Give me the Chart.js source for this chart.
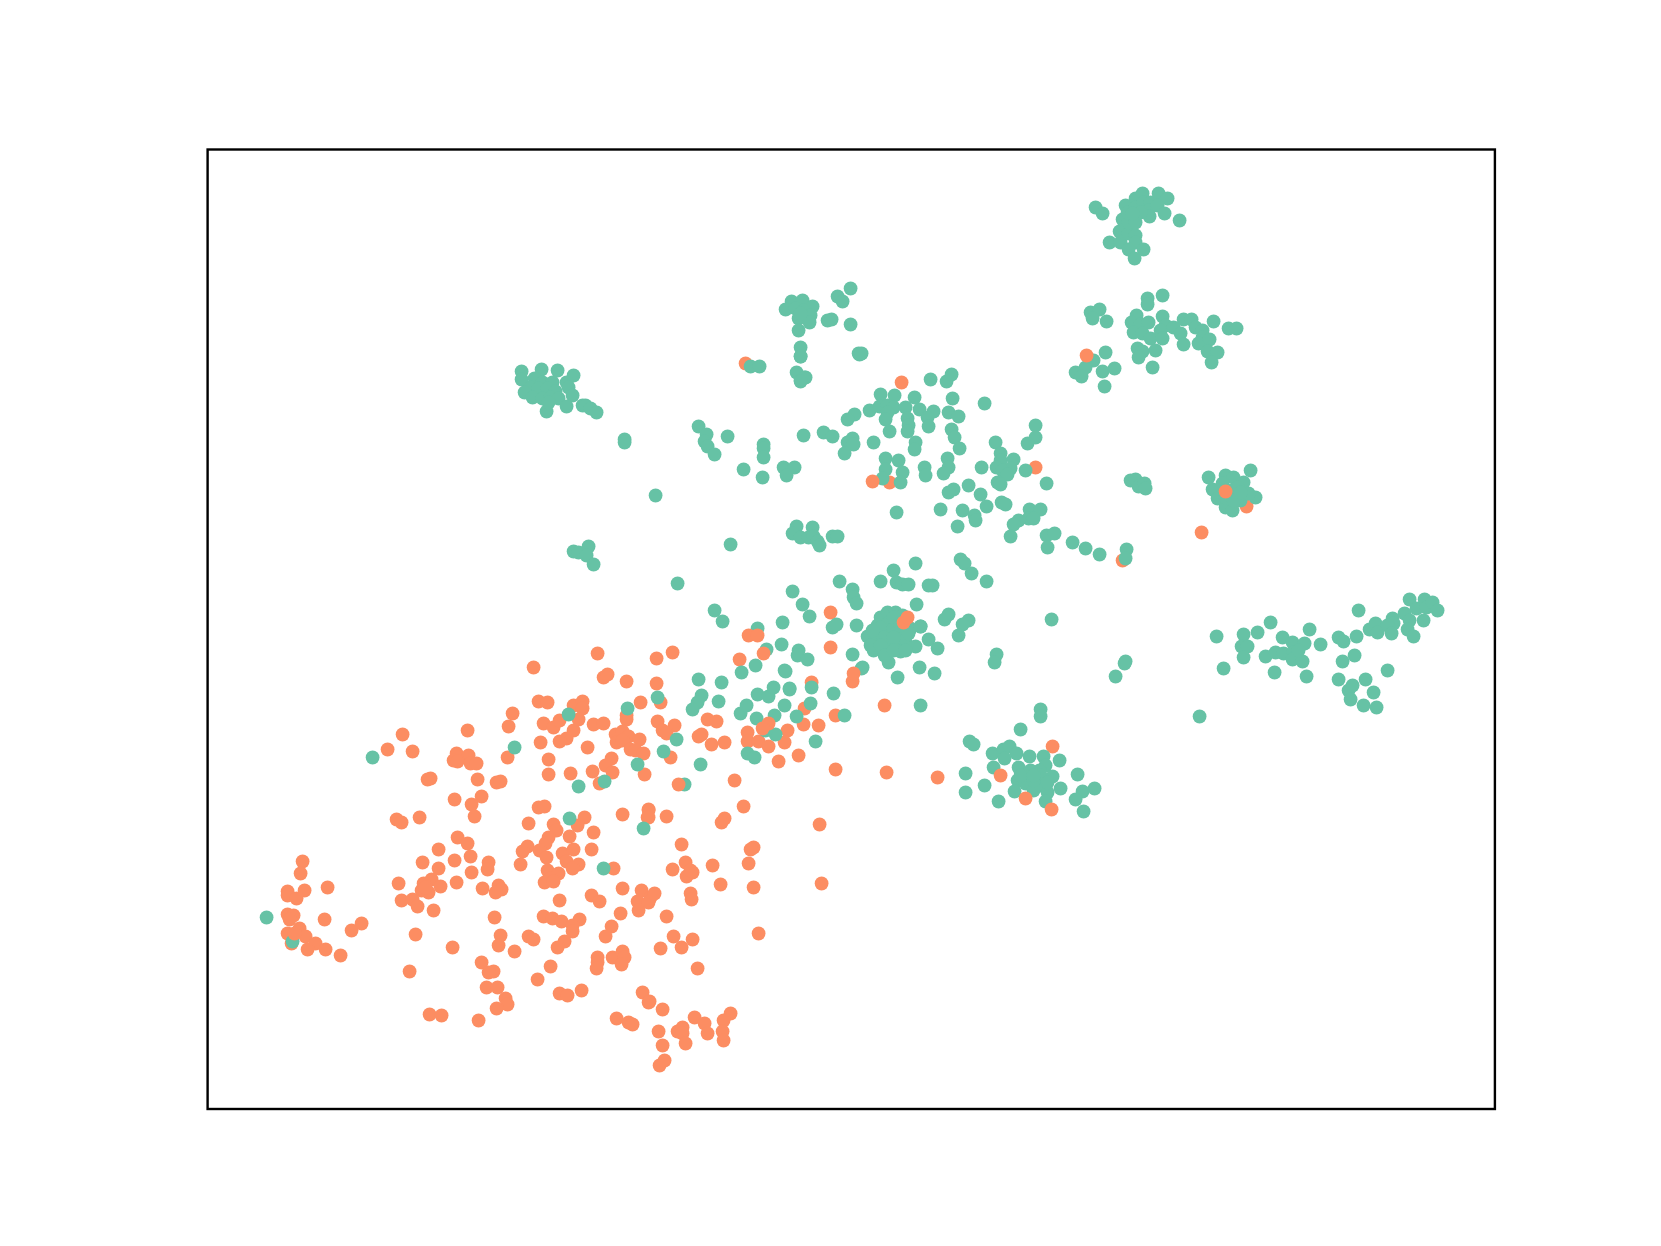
<!DOCTYPE html>
<html>
<head>
<meta charset="utf-8">
<title>Scatter</title>
<script src="https://cdn.jsdelivr.net/npm/chart.js@4/dist/chart.umd.min.js"></script>
<style>
  html, body { margin: 0; padding: 0; background: #fff; }
  canvas { display: block; }
</style>
</head>
<body>
<canvas id="chartScatter" width="1661" height="1246"></canvas>
<script>
// Unitless embedding, no ticks in the source, so values are read straight off the picture
const xRange = [207, 1494.3]
const yRange = [149, 1108.5]

const greenPoints = [
  // lower left strays
  [266,917],[292,941],[372,757],[514,747],[568,714],[627,708],[637,764],[604,781],[578,786],[569,818],[643,828],[603,868],
  // middle band
  [677,583],[701,695],[697,702],[692,709],[698,679],[721,682],[718,701],[657,697],[676,739],[663,751],[700,764],[684,784],
  [747,753],[754,757],[775,734],[765,730],[815,741],[740,713],[746,705],[756,718],[757,694],[768,696],[773,687],[789,688],
  [784,670],[784,705],[774,715],[796,716],[810,703],[811,687],[833,693],[844,715],[920,705],[741,672],[755,665],[766,649],
  [781,644],[798,650],[797,655],[807,659],[782,622],[757,628],[714,610],[722,621],[792,591],[802,604],[809,616],[832,627],
  [836,624],[856,625],[852,654],[862,667],[888,662],[897,677],[919,667],[934,673],[785,671],[789,689],
  // dense blob
  [880,617],[887,612],[895,612],[902,615],[877,625],[887,623],[895,622],[880,633],[890,633],[898,630],[867,636],[875,640],
  [887,642],[897,642],[905,642],[873,650],[887,648],[900,651],[915,646],[910,628],[920,626],[928,639],[937,648],[916,604],
  [861,668],[880,627],[893,628],[883,637],[893,617],[903,637],[908,633],[920,626],[944,619],[948,614],[968,620],[962,624],[958,635],
  [872,630],[870,645],[880,645],[893,637],[900,625],[884,655],[893,650],[905,650],
  // above the blob
  [839,581],[852,589],[853,597],[856,603],[880,581],[893,570],[915,563],[896,582],[902,584],[908,584],[928,585],[932,585],
  [960,559],[964,563],[971,573],[986,581],[1051,619],[996,654],[994,662],[1125,661],[1124,663],[1115,676],[1199,716],
  // centre spread
  [800,356],[859,354],[796,372],[800,380],[805,377],[930,379],[946,381],[951,374],[880,394],[894,395],[914,397],[952,398],
  [984,403],[869,410],[879,406],[887,405],[893,407],[887,412],[905,407],[919,409],[933,411],[948,412],[958,416],[854,414],
  [847,419],[885,419],[907,418],[908,425],[927,417],[928,426],[951,429],[954,437],[959,448],[889,431],[907,431],[823,432],
  [832,436],[803,435],[852,438],[847,442],[853,444],[844,453],[873,442],[915,442],[914,449],[1035,425],[1035,437],[1027,443],
  [995,442],[1000,453],[1000,460],[1013,459],[996,467],[1010,468],[1002,470],[1007,474],[997,482],[1000,484],[981,467],[1025,470],
  [1046,483],[885,458],[898,460],[885,469],[902,472],[882,478],[900,482],[924,467],[925,475],[947,458],[948,467],[943,473],
  [783,467],[794,467],[786,475],[762,477],[896,512],[1130,480],[1135,479],[1138,486],[1144,483],[1145,488],[968,485],[953,489],
  [948,492],[980,494],[1001,502],[1005,504],[986,506],[940,509],[962,510],[974,515],[975,520],[957,526],[1029,509],[1040,509],
  [1028,518],[1033,518],[1018,520],[1013,524],[1010,536],[1046,535],[1054,533],[1047,547],[1072,542],[1085,548],[1099,554],
  [1126,549],[1125,558],[796,526],[812,527],[792,533],[800,537],[808,537],[813,536],[817,541],[819,545],[832,536],[837,536],
  // top right clusters
  [1095,207],[1102,213],[1109,242],[1120,242],[1119,231],[1128,233],[1135,235],[1135,242],[1122,219],[1128,222],[1135,222],
  [1125,205],[1127,212],[1135,198],[1135,207],[1142,193],[1143,202],[1150,202],[1148,210],[1149,216],[1158,193],[1167,198],
  [1157,205],[1164,213],[1179,220],[1128,249],[1143,249],[1134,258],[1140,212],[1132,213],
  [1147,298],[1147,304],[1162,295],[1090,312],[1099,309],[1092,318],[1106,321],[1136,315],[1131,322],[1140,324],[1148,322],
  [1133,332],[1142,333],[1150,338],[1162,316],[1165,325],[1160,330],[1162,338],[1173,327],[1180,333],[1183,344],[1183,319],
  [1191,319],[1195,327],[1202,330],[1202,337],[1198,343],[1209,339],[1207,351],[1217,352],[1211,362],[1213,321],[1228,328],
  [1236,328],[1137,348],[1142,351],[1138,357],[1155,350],[1152,367],[1105,352],[1093,360],[1085,367],[1075,372],[1081,376],
  [1102,371],[1114,368],[1104,386],
  // top middle
  [850,288],[837,296],[842,301],[791,301],[802,300],[812,306],[785,309],[795,308],[803,310],[810,315],[798,318],[809,322],
  [798,330],[800,313],[827,320],[831,319],[850,324],[800,347],[800,356],[858,353],[861,353],[804,377],[800,381],[750,366],[759,366],
  // upper left cluster
  [521,371],[521,379],[541,369],[557,370],[573,375],[566,382],[568,387],[572,395],[534,378],[542,382],[552,382],[530,387],
  [538,388],[547,388],[555,391],[524,392],[532,397],[542,398],[550,397],[558,398],[546,411],[566,406],[548,402],[582,405],
  [585,405],[590,408],[596,412],[624,439],[624,442],
  [698,426],[706,434],[704,441],[707,446],[714,454],[727,436],[763,444],[763,448],[763,457],[743,469],[655,495],[730,544],
  [573,551],[578,552],[588,546],[586,555],[593,564],
  // lower right cluster
  [1040,709],[1040,716],[1020,729],[969,741],[973,744],[992,753],[1003,749],[1009,746],[1016,753],[1004,758],[1029,756],[1043,756],
  [1059,760],[993,767],[1018,767],[1045,765],[1039,770],[965,773],[1026,774],[1052,776],[1077,774],[1017,780],[1039,778],[1025,783],
  [984,785],[1033,790],[1040,785],[1060,788],[1047,792],[1014,791],[965,792],[1094,788],[1082,791],[1075,799],[1045,801],[998,801],[1083,811],
  [1040,775],[1033,780],[1047,782],[1030,770],[1020,775],[1033,775],
  // right tail
  [1216,636],[1223,668],[1243,634],[1241,646],[1247,646],[1243,657],[1257,632],[1270,622],[1265,656],[1275,652],[1282,637],[1292,642],
  [1283,653],[1293,652],[1292,659],[1302,661],[1304,643],[1298,650],[1274,672],[1306,676],[1309,629],[1320,644],[1338,637],[1343,641],
  [1356,636],[1358,610],[1354,655],[1342,661],[1338,679],[1365,679],[1352,685],[1348,690],[1350,699],[1373,692],[1363,705],[1376,707],
  [1387,670],[1369,629],[1375,623],[1377,632],[1392,618],[1393,623],[1387,625],[1391,633],[1404,613],[1409,620],[1407,629],[1413,636],
  [1409,599],[1416,608],[1424,599],[1426,607],[1432,602],[1437,610],[1423,620],
  // small knot
  [1208,477],[1250,470],[1212,489],[1225,475],[1233,477],[1243,482],[1255,497],[1222,483],[1217,498],[1225,507],[1232,510],[1240,500],
  [1248,493],[1230,490],[1237,487],[1225,497],[1233,500],[1240,492]
]

const orangePoints = [
  [597,653],[533,667],[603,677],[607,674],[626,681],[538,701],[547,702],[573,705],[582,701],[582,708],[640,702],[512,713],
  [508,726],[543,723],[553,727],[559,720],[578,719],[573,730],[593,724],[603,723],[626,715],[626,719],[615,734],[622,731],
  [628,736],[616,742],[622,740],[630,749],[639,739],[635,750],[643,753],[566,738],[559,741],[540,742],[587,747],[467,730],
  [402,734],[387,749],[412,751],[456,753],[468,755],[453,760],[457,761],[470,763],[476,763],[507,757],[548,759],[611,758],
  [605,765],[612,772],[548,774],[570,773],[592,771],[644,774],[599,783],[430,778],[427,779],[477,779],[496,782],[500,781],
  [481,796],[454,799],[471,804],[538,807],[544,806],[474,816],[419,817],[396,819],[401,822],[622,814],[648,810],[647,817],
  [528,823],[584,817],[577,825],[553,824],[556,830],[593,832],[569,836],[548,837],[545,843],[457,837],[467,843],[438,849],
  [527,846],[522,851],[539,850],[546,857],[562,853],[573,849],[566,861],[578,864],[572,868],[591,849],[470,856],[454,860],
  [422,862],[488,862],[487,869],[438,868],[471,872],[520,864],[547,870],[558,873],[550,878],[544,882],[553,881],[613,868],
  [398,883],[431,879],[423,883],[440,886],[421,890],[428,892],[425,887],[456,882],[482,888],[498,885],[501,889],[495,892],
  [622,888],[641,890],[650,897],[637,901],[648,902],[591,895],[599,901],[559,900],[401,900],[412,899],[417,906],[433,910],
  [638,910],[620,913],[543,916],[552,918],[561,921],[579,919],[572,925],[572,931],[494,917],[611,926],[605,936],[415,934],
  [500,935],[498,945],[528,936],[533,939],[564,941],[557,947],[452,947],[514,951],[597,957],[597,962],[596,968],[612,957],
  [622,951],[624,957],[621,964],[481,962],[550,966],[493,971],[488,972],[409,971],[537,979],[486,987],[497,987],[559,993],
  [567,995],[581,990],[642,992],[648,1002],[505,998],[507,1004],[496,1008],[429,1014],[441,1015],[478,1020],[616,1018],
  [628,1022],[632,1024],
  // far left group
  [302,861],[300,873],[287,891],[287,895],[304,890],[296,898],[327,887],[287,914],[293,915],[289,919],[324,919],[299,928],
  [287,933],[305,936],[291,943],[315,943],[307,949],[325,949],[340,955],[351,930],[361,923],
  // towards the middle
  [656,658],[672,652],[656,683],[660,702],[657,721],[674,725],[662,730],[666,733],[670,757],[701,734],[698,736],[711,744],
  [724,742],[707,719],[716,721],[734,780],[747,732],[747,741],[758,741],[768,746],[787,730],[784,742],[803,724],[818,725],
  [778,761],[798,755],[804,708],[811,682],[835,715],[852,681],[830,612],[830,647],[884,705],[739,659],[835,769],[886,772],
  [937,777],[743,806],[724,818],[721,822],[819,824],[648,809],[648,817],[666,816],[681,844],[685,862],[692,872],[686,876],
  [690,870],[672,869],[712,865],[753,847],[750,849],[748,863],[720,884],[753,887],[821,883],[690,893],[691,899],[654,893],
  [666,916],[673,936],[692,939],[681,947],[660,948],[697,968],[758,933],[649,1001],[662,1009],[658,1031],[662,1045],[659,1065],
  [664,1060],[677,1031],[682,1027],[682,1033],[685,1043],[694,1017],[704,1023],[707,1033],[730,1013],[723,1020],[722,1031],[723,1040],
  // upper strays under the green
  [901,382],[889,482],[1035,467],[1122,560],[745,363],[1246,506],[1201,532],[1052,746]
]

// these few sit over the green dots in the picture
const orangeTopPoints = [
  [903,622],[907,617],[748,635],[757,635],[763,653],[853,673],[768,723],[762,728],[678,784],[1225,491],[872,481],
  [1000,775],[1025,798],[1051,809],[1086,355],[294,933]
]

function toXY(list) {
  return list.map(p => ({ x: p[0], y: p[1] }))
}

function dotSet(list, color, order) {
  return {
    data: toXY(list),
    backgroundColor: color,
    borderWidth: 0,
    pointRadius: 6.9,
    pointHoverRadius: 6.9,
    order: order
  }
}

// frame round the plot, the axes themselves have no ticks
const frame = {
  id: 'frame',
  afterDraw(chart) {
    const { ctx, chartArea: a } = chart
    ctx.save()
    ctx.strokeStyle = '#000'
    ctx.lineWidth = 2.4
    ctx.strokeRect(a.left, a.top, a.right - a.left, a.bottom - a.top)
    ctx.restore()
  }
}

new Chart(document.getElementById('chartScatter'), {
  type: 'scatter',
  data: {
    datasets: [
      dotSet(orangePoints, '#fc8d62', 3),
      dotSet(greenPoints, '#66c2a5', 2),
      dotSet(orangeTopPoints, '#fc8d62', 1)
    ]
  },
  options: {
    responsive: false,
    animation: false,
    layout: { padding: { left: 207.6, right: 166.1, top: 149.5, bottom: 137 } },
    plugins: { legend: { display: false }, tooltip: { enabled: false } },
    scales: {
      x: { display: false, min: xRange[0], max: xRange[1] },
      y: { display: false, min: yRange[0], max: yRange[1], reverse: true }
    }
  },
  plugins: [frame]
})
</script>
</body>
</html>
